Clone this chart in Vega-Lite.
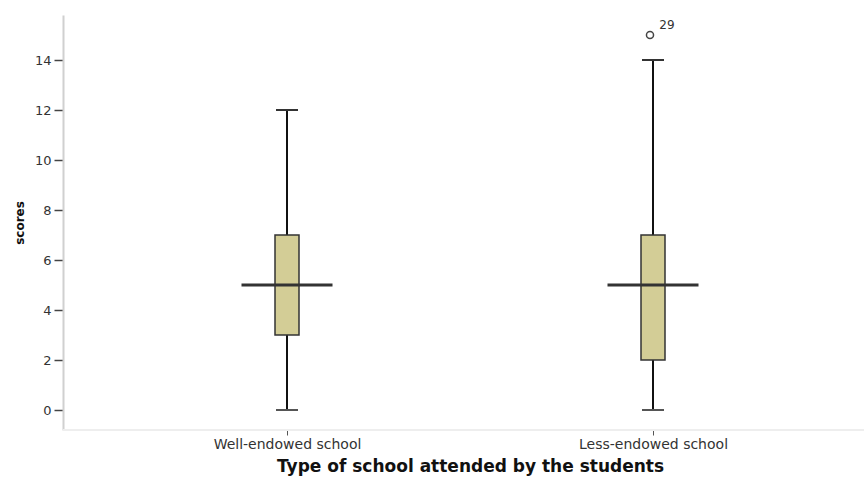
{
  "$schema": "https://vega.github.io/schema/vega-lite/v6.json",
  "width": 801,
  "height": 415,
  "autosize": {"type": "none"},
  "padding": {"left": 63, "top": 15, "right": 0, "bottom": 47},
  "background": "white",
  "config": {"view": {"stroke": null}, "font": "DejaVu Sans"},
  "datasets": {
    "summary": [
      {"school": "Well-endowed school", "min": 0, "q1": 3, "median": 5, "q3": 7, "max": 12},
      {"school": "Less-endowed school", "min": 0, "q1": 2, "median": 5, "q3": 7, "max": 14}
    ],
    "outliers": [
      {"school": "Less-endowed school", "scores": 15, "case": "29"}
    ]
  },
  "encoding": {
    "x": {
      "field": "school",
      "type": "nominal",
      "sort": ["Well-endowed school", "Less-endowed school"],
      "scale": {"type": "point", "range": [224, 590], "padding": 0},
      "axis": {
        "title": "Type of school attended by the students",
        "titleFont": "DejaVu Sans",
        "titleFontWeight": "bold",
        "titleFontSize": 17,
        "titleColor": "#111",
        "titlePadding": 7,
        "labelAngle": 0,
        "labelFontSize": 14,
        "labelColor": "#333",
        "labelPadding": 2,
        "labelFont": "DejaVu Sans",
        "domain": false,
        "tickSize": 5,
        "tickColor": "#555",
        "tickWidth": 1
      }
    }
  },
  "layer": [
    {
      "data": {"values": [{"v": -0.8}]},
      "mark": {"type": "rule", "color": "#eeeeee", "strokeWidth": 2},
      "encoding": {
        "x": null,
        "y": {
          "field": "v",
          "type": "quantitative",
          "scale": {"domain": [-0.8, 15.8], "nice": false, "zero": false},
          "axis": {
            "title": "scores",
            "titleFontWeight": "bold",
            "titleFontSize": 12,
            "titleColor": "#111",
            "titlePadding": 8,
            "values": [0, 2, 4, 6, 8, 10, 12, 14],
            "labelFontSize": 13,
            "labelColor": "#333",
            "labelPadding": 3,
            "grid": false,
            "domainColor": "#d0d0d0",
            "domainWidth": 2,
            "tickColor": "#444",
            "tickSize": 9,
            "tickWidth": 1.5
          }
        }
      }
    },
    {
      "data": {"name": "summary"},
      "mark": {"type": "rule", "color": "#111", "strokeWidth": 2},
      "encoding": {
        "y": {"field": "min", "type": "quantitative"},
        "y2": {"field": "max"}
      }
    },
    {
      "data": {"name": "summary"},
      "mark": {"type": "bar", "size": 24, "fill": "#d3cd96", "stroke": "#333", "strokeWidth": 1.5},
      "encoding": {
        "y": {"field": "q1", "type": "quantitative"},
        "y2": {"field": "q3"}
      }
    },
    {
      "data": {"name": "summary"},
      "mark": {"type": "tick", "orient": "horizontal", "size": 91, "thickness": 3, "color": "#333", "opacity": 1},
      "encoding": {
        "y": {"field": "median", "type": "quantitative"}
      }
    },
    {
      "data": {"name": "summary"},
      "mark": {"type": "tick", "orient": "horizontal", "size": 22, "thickness": 2, "color": "#555", "opacity": 1},
      "encoding": {
        "y": {"field": "min", "type": "quantitative"}
      }
    },
    {
      "data": {"name": "summary"},
      "mark": {"type": "tick", "orient": "horizontal", "size": 22, "thickness": 2, "color": "#333", "opacity": 1},
      "encoding": {
        "y": {"field": "max", "type": "quantitative"}
      }
    },
    {
      "data": {"name": "outliers"},
      "mark": {"type": "point", "shape": "circle", "size": 50, "filled": false, "stroke": "#444", "strokeWidth": 1.5, "opacity": 1, "xOffset": -3},
      "encoding": {
        "y": {"field": "scores", "type": "quantitative"}
      }
    },
    {
      "data": {"name": "outliers"},
      "mark": {"type": "text", "dx": 14, "dy": -10, "fontSize": 12, "color": "#333"},
      "encoding": {
        "y": {"field": "scores", "type": "quantitative"},
        "text": {"field": "case"}
      }
    }
  ]
}
